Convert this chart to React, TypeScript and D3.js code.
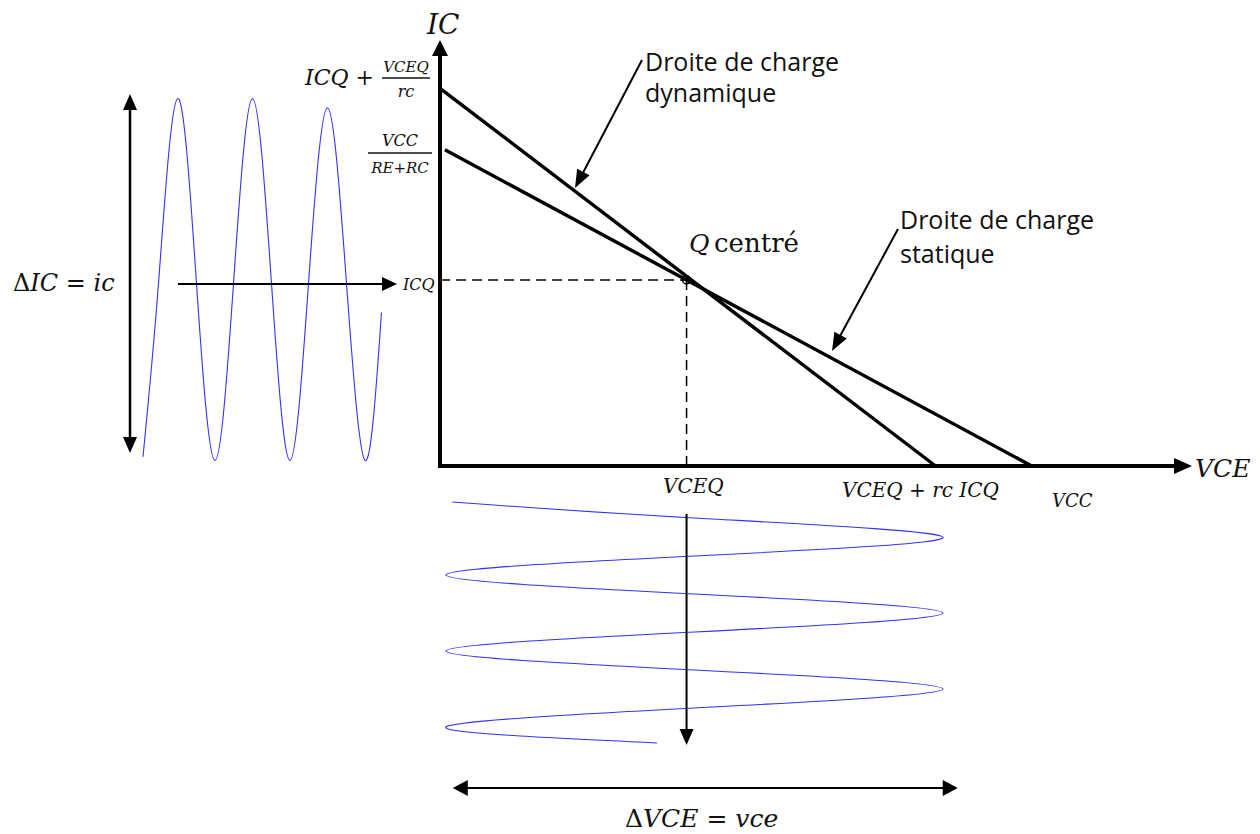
import React from 'react';
import * as d3 from 'd3';

// operating point and load line values (arbitrary units)
const VCEQ = 5;
const ICQ = 2;
const VCC = 12;
const VCE_DYN = 10.05; // VCEQ + rc ICQ
const IC_DYN = 4.06; // ICQ + VCEQ/rc
const IC_STAT = 3.4; // VCC/(RE+RC)

const dynLine = [
  { vce: 0, ic: IC_DYN },
  { vce: VCE_DYN, ic: 0 },
];
const statLine = [
  { vce: 0.1, ic: IC_STAT },
  { vce: VCC, ic: 0 },
];

// ic(t) on the left, vce(t) below
const icWave = [
  [0.04, 0.1], [0.25, 2.0], [0.5, 3.95], [0.75, 2.0], [1, 0.06], [1.25, 2.0],
  [1.5, 3.95], [1.75, 2.0], [2, 0.06], [2.25, 2.0], [2.5, 3.85], [2.75, 2.0],
  [3, 0.06], [3.22, 1.65],
];
const vceWave = [
  [-0.21, 0.25], [0, 5.16], [0.25, 10.2], [0.5, 5.16], [0.75, 0.12], [1, 5.16],
  [1.25, 10.2], [1.5, 5.16], [1.75, 0.12], [2, 5.16], [2.25, 10.2], [2.5, 5.16],
  [2.75, 0.12], [2.96, 4.4],
];

const deltaIC = [4.0, 0.14];
const deltaVCE = [0.26, 10.5];

const xTicks = [
  { label: 'VCEQ', x: 663, y: 493, size: 20 },
  { label: 'VCEQ + rc ICQ', x: 842, y: 497, size: 20 },
  { label: 'VCC', x: 1052, y: 507, size: 18 },
];

const W = 1260;
const H = 834;
const MATH = "'DejaVu Serif', serif";
const SANS = "'Open Sans', sans-serif";

const x = d3.scaleLinear().domain([0, 15.25]).range([440, 1192]);
const y = d3.scaleLinear().domain([0, 4.58]).range([466, 40]);
const tLeft = d3.scaleLinear().domain([0, 3]).range([140, 365]);
const tBot = d3.scaleLinear().domain([0, 3]).range([518, 746]);

const loadPath = d3.line<{ vce: number; ic: number }>()
  .x(d => x(d.vce))
  .y(d => y(d.ic));

const icPath = d3.line<number[]>()
  .x(d => tLeft(d[0]))
  .y(d => y(d[1]))
  .curve(d3.curveNatural);

const vcePath = d3.line<number[]>()
  .x(d => x(d[1]))
  .y(d => tBot(d[0]))
  .curve(d3.curveNatural);

function Arrow({ x1, y1, x2, y2, len = 16, half = 7, lw = 2, both = false }: any) {
  const dx = x2 - x1, dy = y2 - y1;
  const d = Math.hypot(dx, dy);
  const ux = dx / d, uy = dy / d;
  const nx = -uy, ny = ux;
  const head = (tx: number, ty: number, sx: number, sy: number) => {
    const bx = tx - sx * len, by = ty - sy * len;
    return `${tx},${ty} ${bx + nx * half},${by + ny * half} ${bx - nx * half},${by - ny * half}`;
  };
  const sx = both ? x1 + ux * (len - 1) : x1;
  const sy = both ? y1 + uy * (len - 1) : y1;
  return (
    <g>
      <line x1={sx} y1={sy} x2={x2 - ux * (len - 1)} y2={y2 - uy * (len - 1)} stroke="#000" strokeWidth={lw} />
      <polygon points={head(x2, y2, ux, uy)} fill="#000" />
      {both && <polygon points={head(x1, y1, -ux, -uy)} fill="#000" />}
    </g>
  );
}

// letters italic, operators upright, like an equation editor
function MathText({ text, x, y, size, anchor = 'start' }: any) {
  const runs: { t: string; it: boolean }[] = [];
  for (const ch of text) {
    const it = /[A-Za-z]/.test(ch);
    if (runs.length && runs[runs.length - 1].it === it) runs[runs.length - 1].t += ch;
    else runs.push({ t: ch, it });
  }
  return (
    <text x={x} y={y} fontSize={size} fontFamily={MATH} textAnchor={anchor} style={{ whiteSpace: 'pre' }} fill="#111">
      {runs.map((r, i) => (
        <tspan key={i} fontStyle={r.it ? 'italic' : 'normal'}>{r.t}</tspan>
      ))}
    </text>
  );
}

function Frac({ num, den, cx, x1, x2, barY, numY, denY, numSize, denSize }: any) {
  return (
    <g>
      <MathText text={num} x={cx} y={numY} size={numSize} anchor="middle" />
      <line x1={x1} x2={x2} y1={barY} y2={barY} stroke="#111" strokeWidth={1.6} />
      <MathText text={den} x={cx} y={denY} size={denSize} anchor="middle" />
    </g>
  );
}

export default function App() {
  const qx = x(VCEQ);
  const qy = y(ICQ);
  return (
    <svg width={W} height={H} style={{ position: 'absolute', left: 0, top: 0, background: '#fff' }}>
      {/* waveforms */}
      <path d={icPath(icWave) || ''} fill="none" stroke="#3232ff" strokeWidth={1.1} />
      <path d={vcePath(vceWave) || ''} fill="none" stroke="#3232ff" strokeWidth={1.1} />

      {/* dashed guides to Q */}
      <line x1={x(0)} x2={qx} y1={qy} y2={qy} stroke="#000" strokeWidth={1.5} strokeDasharray="10,6" />
      <line x1={qx} x2={qx} y1={qy} y2={y(0)} stroke="#000" strokeWidth={1.5} strokeDasharray="10,6" />

      {/* load lines */}
      <path d={loadPath(dynLine) || ''} stroke="#000" strokeWidth={3.4} fill="none" />
      <path d={loadPath(statLine) || ''} stroke="#000" strokeWidth={3.4} fill="none" />
      <circle cx={qx} cy={qy} r={4} fill="none" stroke="#000" strokeWidth={1.5} />

      {/* axes */}
      <Arrow x1={x(0)} y1={y(0) + 2} x2={x(0)} y2={y(4.58)} len={16} half={8} lw={4} />
      <Arrow x1={x(0) - 2} y1={y(0)} x2={x(15.25)} y2={y(0)} len={18} half={8} lw={4} />

      {/* signal arrows */}
      <Arrow x1={130} y1={y(deltaIC[0])} x2={130} y2={y(deltaIC[1])} len={16} half={7} lw={2.5} both />
      <Arrow x1={178} y1={qy + 4} x2={397} y2={qy + 4} len={15} half={7} lw={2} />
      <Arrow x1={qx} y1={514} x2={qx} y2={745} len={16} half={7} lw={2} />
      <Arrow x1={x(deltaVCE[0])} y1={788} x2={x(deltaVCE[1])} y2={788} len={15} half={8} lw={2} both />

      {/* annotation arrows */}
      <Arrow x1={642} y1={60} x2={575} y2={188} len={18} half={7} lw={2} />
      <Arrow x1={898} y1={229} x2={832} y2={351} len={18} half={7} lw={2} />

      {/* axis labels */}
      <MathText text="IC" x={427} y={34} size={28} />
      <MathText text="VCE" x={1195} y={477} size={25} />
      <MathText text="ICQ +" x={374} y={85} size={22} anchor="end" />
      <Frac num="VCEQ" den="rc" cx={406} x1={382} x2={430} barY={78} numY={72} denY={97} numSize={15} denSize={16} />
      <Frac num="VCC" den="RE+RC" cx={400} x1={368} x2={432} barY={153} numY={146} denY={173} numSize={16} denSize={15} />
      <MathText text="ICQ" x={403} y={290} size={16} />
      <MathText text="ΔIC = ic" x={13} y={291} size={24} />
      <MathText text="ΔVCE = vce" x={625} y={827} size={25} />
      {xTicks.map(t => (
        <MathText key={t.label} text={t.label} x={t.x} y={t.y} size={t.size} />
      ))}

      <MathText text="Q" x={689} y={252} size={25} />
      <text x={714} y={252} fontSize={26} fontFamily={MATH} fill="#111">centré</text>

      <g fontFamily={SANS} fontSize={25} fill="#111">
        <text x={645} y={71}>Droite de charge</text>
        <text x={645} y={102}>dynamique</text>
        <text x={900} y={229}>Droite de charge</text>
        <text x={900} y={263}>statique</text>
      </g>
    </svg>
  );
}
